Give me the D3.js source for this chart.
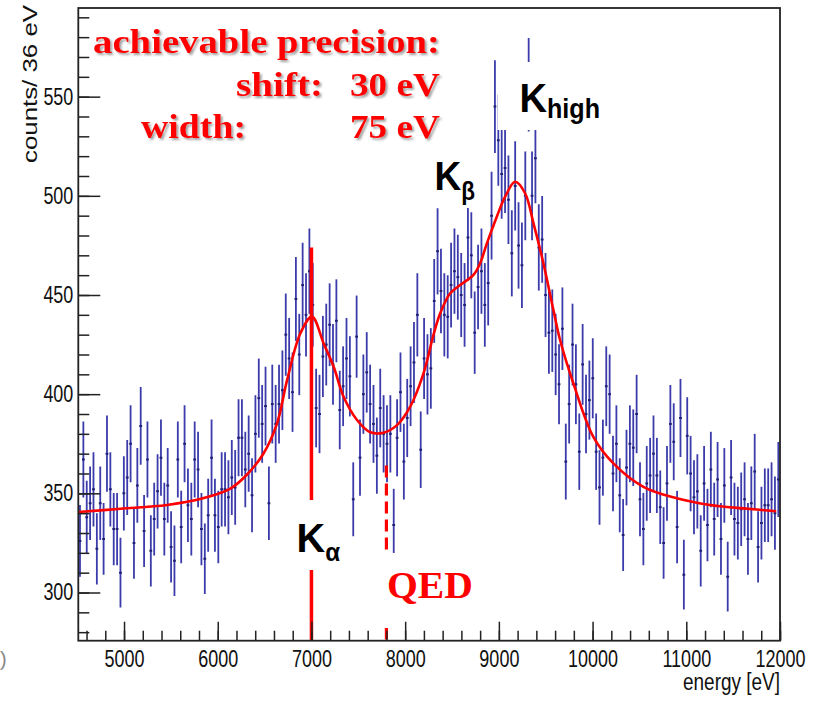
<!DOCTYPE html>
<html>
<head>
<meta charset="utf-8">
<script src="https://cdn.jsdelivr.net/npm/d3@7"></script>
<style>
body { margin: 0; background: #fff; }
</style>
</head>
<body>
<script>

// histogram: counts per 36 eV bin, first bin starts at 4512 eV
var binStart = 4512;
var binWidth = 36;
var counts = [
  326, 367, 338, 345, 352, 322, 345, 327, 370, 352,
  332, 332, 310, 350, 358, 375, 325, 354, 384, 331,
  367, 321, 337, 351, 368, 337, 354, 323, 316, 367,
  333, 375, 344, 337, 367, 362, 332, 317, 339, 368,
  339, 333, 352, 352, 348, 358, 353, 378, 378, 362,
  370, 349, 380, 398, 385, 394, 345, 395, 385, 395,
  402, 430, 418, 401, 448, 420, 455, 440, 462, 445,
  393, 390, 419, 425, 435, 415, 437, 392, 404, 418,
  409, 347, 429, 368, 400, 411, 395, 385, 369, 393,
  380, 375, 380, 334, 378, 401, 366, 388, 404, 416,
  440, 372, 418, 410, 413, 447, 472, 452, 440, 439,
  455, 462, 459, 450, 445, 479, 470, 431, 454, 462,
  445, 456, 490, 545, 528, 511, 514, 498, 471, 505,
  475, 465, 500, 556, 500, 519, 474, 478, 450, 431,
  432, 420, 405, 433, 366, 395, 425, 405, 371, 415,
  390, 397, 408, 371, 353, 368, 404, 400, 360, 375,
  349, 329, 363, 375, 373, 390, 347, 332, 355, 359,
  370, 359, 343, 325, 355, 385, 376, 333, 388, 309,
  379, 360, 348, 351, 321, 355, 334, 362, 337, 357,
  327, 354, 308, 358, 337, 335, 342, 347, 327, 345,
  361, 323, 335, 344, 344, 347, 340, 357
];

// fit function
var fitEnergy = [4512, 4963, 5460, 5851, 6135, 6313, 6490, 6633, 6740, 6882, 7006, 7130, 7237, 7343, 7486, 7628, 7770, 7913, 8054, 8196, 8303, 8374, 8481, 8587, 8729, 8800, 8872, 8978, 9067, 9174, 9280, 9369, 9475, 9582, 9653, 9795, 10008, 10222, 10542, 10898, 11253, 11608, 11960];
var fitCounts = [340.6, 342.2, 344.1, 347.6, 352.4, 359.5, 370.2, 385.3, 407.1, 430.7, 439.1, 425.6, 413.8, 398.7, 387.0, 380.8, 380.6, 384.4, 393.7, 410.5, 430.0, 440.8, 450.9, 455.0, 460.1, 466.0, 476.0, 489.5, 499.6, 507.1, 501.3, 486.2, 466.0, 442.4, 427.3, 405.5, 378.5, 365.1, 353.3, 347.5, 344.1, 342.4, 341.0];

var xMajor = [5000, 6000, 7000, 8000, 9000, 10000, 11000, 12000];
var xMinor = d3.range(4600, 12001, 200);
var yMajor = [300, 350, 400, 450, 500, 550];
var yMinor = d3.range(280, 591, 10);

var lineKalpha = 7000;
var lineQED = 7800;

var width = 813, height = 701;
var frame = {left: 78.3, right: 780, top: 8, bottom: 640.7};
var errFactor = 1.0;

var svg = d3.select("body").append("svg")
    .attr("width", width)
    .attr("height", height)
    .style("font-family", "'Liberation Sans', Arial, sans-serif");

var defs = svg.append("defs");
defs.append("clipPath").attr("id", "plotclip")
    .append("rect")
    .attr("x", frame.left).attr("y", frame.top)
    .attr("width", frame.right - frame.left)
    .attr("height", frame.bottom - frame.top);

var shadow = defs.append("filter").attr("id", "shadow")
    .attr("x", "-10%").attr("y", "-20%").attr("width", "130%").attr("height", "160%");
shadow.append("feDropShadow")
    .attr("dx", 2).attr("dy", 2).attr("stdDeviation", 1.2)
    .attr("flood-color", "#555").attr("flood-opacity", 0.55);

var xScale = d3.scaleLinear()
    .domain([binStart, 12000])
    .range([frame.left, frame.right]);

var yScale = d3.scaleLinear()
    .domain([275.7, 594.7])
    .range([frame.bottom, frame.top]);

var bins = counts.map(function(c, i) {
  var lo = binStart + i * binWidth;
  return {lo: lo, hi: lo + binWidth, mid: lo + binWidth / 2, c: c, err: errFactor * Math.sqrt(c)};
});

var plot = svg.append("g").attr("clip-path", "url(#plotclip)");

// error bars
plot.selectAll(".ebar")
    .data(bins)
    .enter().append("line")
    .attr("class", "ebar")
    .attr("x1", function(d) { return xScale(d.mid); })
    .attr("x2", function(d) { return xScale(d.mid); })
    .attr("y1", function(d) { return yScale(d.c - d.err); })
    .attr("y2", function(d) { return yScale(d.c + d.err); })
    .style("stroke", "#3b3bab")
    .style("stroke-width", 1.8);

plot.selectAll(".hbar")
    .data(bins)
    .enter().append("line")
    .attr("class", "hbar")
    .attr("x1", function(d) { return xScale(d.lo) + 0.3; })
    .attr("x2", function(d) { return xScale(d.hi) - 0.3; })
    .attr("y1", function(d) { return yScale(d.c); })
    .attr("y2", function(d) { return yScale(d.c); })
    .style("stroke", "#1e1e72")
    .style("stroke-width", 2);

// fit curve
var fitLine = d3.line()
    .x(function(d) { return xScale(d[0]); })
    .y(function(d) { return yScale(d[1]); })
    .curve(d3.curveCatmullRom.alpha(0.5));

plot.append("path")
    .datum(fitEnergy.map(function(e, i) { return [e, fitCounts[i]]; }))
    .attr("d", fitLine)
    .style("fill", "none")
    .style("stroke", "#ff0000")
    .style("stroke-width", 2.6);

// K alpha line and QED line
plot.append("line")
    .attr("x1", xScale(lineKalpha)).attr("x2", xScale(lineKalpha))
    .attr("y1", yScale(474)).attr("y2", frame.bottom)
    .style("stroke", "#ff0000").style("stroke-width", 3.5);

plot.append("line")
    .attr("x1", xScale(lineQED)).attr("x2", xScale(lineQED))
    .attr("y1", yScale(364)).attr("y2", frame.bottom)
    .style("stroke", "#ff0000").style("stroke-width", 3.2)
    .style("stroke-dasharray", "12,6");

// white boxes behind labels
var boxes = [
  [290, 500, 55, 70],
  [376, 553, 104, 75],
  [430, 155, 48, 53],
  [497.5, 62, 108, 68]
];
svg.selectAll(".lbox")
    .data(boxes)
    .enter().append("rect")
    .attr("class", "lbox")
    .attr("x", function(d) { return d[0]; })
    .attr("y", function(d) { return d[1]; })
    .attr("width", function(d) { return d[2]; })
    .attr("height", function(d) { return d[3]; })
    .style("fill", "#fff");

// helper for squeezed text
function addText(g, str, x, y, size, len, opts) {
  opts = opts || {};
  var t = g.append("text")
      .attr("x", x).attr("y", y)
      .style("font-size", size + "px")
      .text(str);
  if (len) t.attr("textLength", len).attr("lengthAdjust", "spacingAndGlyphs");
  if (opts.anchor) t.style("text-anchor", opts.anchor);
  if (opts.weight) t.style("font-weight", opts.weight);
  if (opts.family) t.style("font-family", opts.family);
  if (opts.fill) t.style("fill", opts.fill);
  return t;
}

// K labels with subscripts
function kLabel(sub, x, y, subSize, subDrop, len) {
  var t = svg.append("text")
      .attr("x", x).attr("y", y)
      .style("font-weight", "bold")
      .style("fill", "#000")
      .attr("textLength", len)
      .attr("lengthAdjust", "spacingAndGlyphs");
  t.append("tspan").style("font-size", "41px").text("K");
  t.append("tspan").style("font-size", subSize + "px").attr("dy", subDrop).text(sub);
}
kLabel("\u03b1", 296.5, 551.7, 25, 9, 43.5);
kLabel("\u03b2", 434.5, 190, 25, 9.5, 40.5);
kLabel("high", 519.5, 111.7, 27, 6.3, 80.5);

// red annotation text
var serif = "'Liberation Serif', 'Times New Roman', serif";
var red = svg.append("g")
    .style("font-family", serif)
    .style("font-weight", "bold")
    .style("fill", "#ff0000")
    .attr("filter", "url(#shadow)");
addText(red, "achievable precision:", 93, 53, 33, 347);
addText(red, "shift:", 236, 96, 33, 87);
addText(red, "30 eV", 350, 96, 33, 90);
addText(red, "width:", 141, 138, 33, 105);
addText(red, "75 eV", 350, 138, 33, 90);

addText(svg, "QED", 387, 598, 38, 86, {family: serif, weight: "bold", fill: "#ff0000"});

// axes
var xAxisMinor = d3.axisBottom(xScale)
    .tickValues(xMinor)
    .tickSizeInner(-10)
    .tickSizeOuter(0)
    .tickFormat("");

var xAxis = d3.axisBottom(xScale)
    .tickValues(xMajor)
    .tickSizeInner(-19)
    .tickSizeOuter(0)
    .tickPadding(9)
    .tickFormat(d3.format("d"));

var yAxisMinor = d3.axisLeft(yScale)
    .tickValues(yMinor)
    .tickSizeInner(-11)
    .tickSizeOuter(0)
    .tickFormat("");

var yAxis = d3.axisLeft(yScale)
    .tickValues(yMajor)
    .tickSizeInner(-22)
    .tickSizeOuter(0)
    .tickPadding(5)
    .tickFormat(d3.format("d"));

function styleAxis(g) {
  g.select(".domain").remove();
  g.selectAll(".tick line").style("stroke", "#222").style("stroke-width", 1.5);
}

svg.append("g")
    .attr("transform", "translate(0," + frame.bottom + ")")
    .call(xAxisMinor).call(styleAxis);

var gx = svg.append("g")
    .attr("transform", "translate(0," + frame.bottom + ")")
    .call(xAxis).call(styleAxis);
gx.selectAll(".tick text")
    .attr("dy", "0.72em")
    .attr("transform", "scale(0.75,1)")
    .style("font-size", "24px")
    .style("font-family", "'Liberation Sans', Arial, sans-serif")
    .style("fill", "#111");

svg.append("g")
    .attr("transform", "translate(" + frame.left + ",0)")
    .call(yAxisMinor).call(styleAxis);

var gy = svg.append("g")
    .attr("transform", "translate(" + frame.left + ",0)")
    .call(yAxis).call(styleAxis);
gy.selectAll(".tick text")
    .attr("x", -5 / 0.78)
    .attr("transform", "scale(0.78,1)")
    .style("font-size", "23px")
    .style("font-family", "'Liberation Sans', Arial, sans-serif")
    .style("fill", "#111");

// frame
svg.append("rect")
    .attr("x", frame.left).attr("y", frame.top)
    .attr("width", frame.right - frame.left)
    .attr("height", frame.bottom - frame.top)
    .style("fill", "none")
    .style("stroke", "#222")
    .style("stroke-width", 1.8);

// axis titles
addText(svg, "energy [eV]", 780, 690, 23, 97, {anchor: "end", fill: "#111"});

svg.append("text")
    .attr("transform", "translate(37,5) rotate(-90)")
    .style("text-anchor", "end")
    .style("font-size", "21px")
    .style("fill", "#111")
    .attr("textLength", 158)
    .attr("lengthAdjust", "spacingAndGlyphs")
    .text("counts/ 36 eV");

// cut-off piece at the left edge
addText(svg, ")", 0, 666, 20, null, {fill: "#888"});

</script>
</body>
</html>
